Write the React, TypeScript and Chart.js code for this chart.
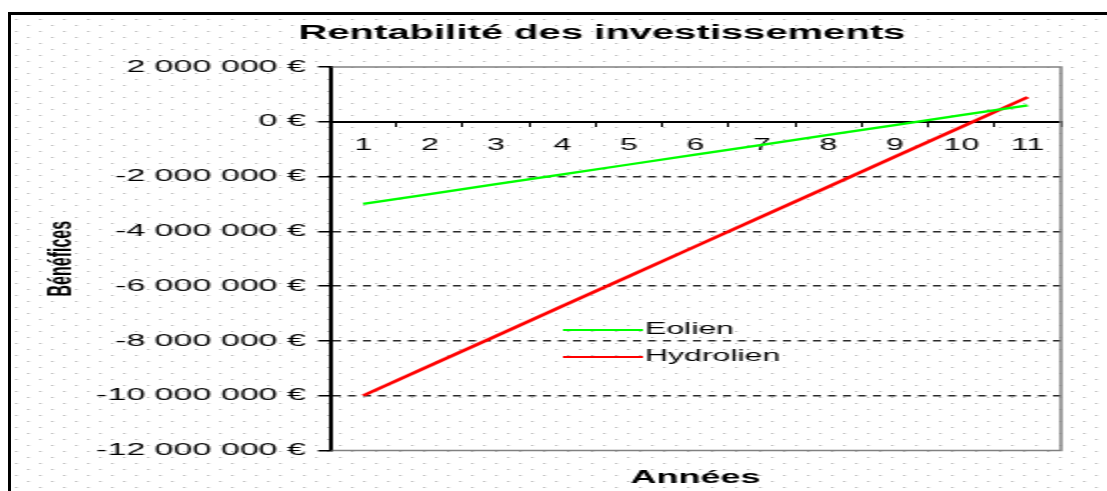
import React, { useEffect, useRef } from "react";
import { Chart, registerables } from "chart.js";

Chart.register(...registerables);
Chart.defaults.font.family = "'Liberation Sans', Arial, sans-serif";

// ---- data ----
const years = ["1", "2", "3", "4", "5", "6", "7", "8", "9", "10", "11"];
const eolien = [-3000000, -2640000, -2280000, -1920000, -1560000, -1200000, -840000, -480000, -120000, 240000, 600000];
const hydrolien = [-10000000, -8910000, -7820000, -6730000, -5640000, -4550000, -3460000, -2370000, -1280000, -190000, 900000];
const seriesNames = ["Eolien", "Hydrolien"];
const yMin = -12000000;
const yMax = 2000000;
const yStep = 2000000;
const chartTitle = "Rentabilité des investissements";
const xTitle = "Années";
const yTitle = "Bénéfices";

const fmtEuro = (v: number) => {
  const s = Math.abs(v).toString().replace(/\B(?=(\d{3})+(?!\d))/g, " ");
  return (v < 0 ? "-" : "") + s + " €";
};

const dotsPlugin = {
  id: "dotsBackground",
  beforeDraw(chart: any) {
    const { ctx, width, height } = chart;
    ctx.save();
    ctx.fillStyle = "#bcbcbc";
    let row = 0;
    for (let y = 4; y < height; y += 6, row++) {
      const off = row % 2 ? 6 : 0;
      for (let x = off + 2; x < width; x += 12) ctx.fillRect(x, y, 1.3, 1);
    }
    ctx.restore();
  },
};

const framePlugin = {
  id: "plotFrame",
  beforeDatasetsDraw(chart: any) {
    const { ctx, chartArea } = chart;
    const { left, right, top, bottom } = chartArea;
    ctx.save();
    ctx.strokeStyle = "#808080";
    ctx.lineWidth = 1.5;
    ctx.beginPath();
    ctx.moveTo(left + 1, top);
    ctx.lineTo(right, top);
    ctx.lineTo(right, bottom);
    ctx.lineTo(left + 1, bottom);
    ctx.stroke();
    ctx.restore();
  },
};

const insideLegendPlugin = {
  id: "insideLegend",
  afterDatasetsDraw(chart: any) {
    const { ctx, chartArea } = chart;
    const x0 = chartArea.left + 116.5;
    const y0 = chartArea.top + 263;
    ctx.save();
    ctx.font = "16px 'Liberation Sans', Arial, sans-serif";
    ctx.textBaseline = "middle";
    ctx.textAlign = "left";
    chart.data.datasets.forEach((ds: any, i: number) => {
      const y = y0 + i * 27;
      ctx.strokeStyle = ds.borderColor;
      ctx.lineWidth = 2.2;
      ctx.beginPath();
      ctx.moveTo(x0, y);
      ctx.lineTo(x0 + 40, y);
      ctx.stroke();
      ctx.fillStyle = "#000";
      ctx.fillText(ds.label, x0 + 41, y);
    });
    ctx.restore();
  },
};

function RentabiliteChart() {
  const canvasRef = useRef<HTMLCanvasElement | null>(null);

  useEffect(() => {
    if (!canvasRef.current) return;
    const hidden = "rgba(0,0,0,0)";
    const chart = new Chart(canvasRef.current, {
      type: "line",
      data: {
        labels: years,
        datasets: [
          {
            label: seriesNames[0],
            data: eolien,
            borderColor: "#00ff00",
            backgroundColor: "#00ff00",
            borderWidth: 2.3,
            pointRadius: 0,
            tension: 0,
            fill: false,
          },
          {
            label: seriesNames[1],
            data: hydrolien,
            borderColor: "#ff0000",
            backgroundColor: "#ff0000",
            borderWidth: 2.6,
            pointRadius: 0,
            tension: 0,
            fill: false,
          },
        ],
      },
      plugins: [dotsPlugin, framePlugin, insideLegendPlugin],
      options: {
        responsive: false,
        animation: false,
        devicePixelRatio: 1,
        events: [],
        layout: { padding: { left: 30, right: -13, top: 0, bottom: 0 } },
        plugins: {
          legend: { display: false },
          tooltip: { enabled: false },
          title: {
            display: true,
            text: chartTitle,
            color: "#000",
            font: { size: 20, weight: "bold" },
            padding: { top: 6, bottom: 22 },
          },
          subtitle: {
            display: true,
            text: xTitle,
            position: "bottom",
            fullSize: false,
            color: "#000",
            font: { size: 18, weight: "bold" },
            padding: { top: 17, bottom: 2 },
          },
        },
        scales: {
          x: {
            type: "category",
            offset: true,
            position: { y: 0 },
            grid: {
              offset: true,
              drawOnChartArea: false,
              drawTicks: true,
              tickLength: 4,
              color: "#000",
              lineWidth: 1,
            },
            border: { display: true, color: "#000", width: 2 },
            ticks: {
              color: "#000",
              font: { size: 16 },
              padding: 10,
              maxRotation: 0,
              autoSkip: false,
            },
          },
          y: {
            type: "linear",
            position: "left",
            min: yMin,
            max: yMax,
            ticks: {
              stepSize: yStep,
              color: "#000",
              font: { size: 17 },
              padding: 6,
              callback: (v: any) => fmtEuro(Number(v)),
            },
            grid: {
              color: (c: any) => {
                const v = c.tick ? c.tick.value : null;
                return v === 0 || v === yMax || v === yMin ? hidden : "#2a2a2a";
              },
              lineWidth: 1.5,
              drawTicks: true,
              tickLength: 6,
              tickColor: "#000",
              tickWidth: 1.5,
            },
            border: { display: true, color: "#000", width: 2, dash: [4, 3.5] },
            title: {
              display: true,
              text: yTitle,
              color: "#000",
              font: { size: 16, weight: "bold" },
              padding: { top: -14.1, bottom: 0 },
            },
            afterFit: (scale: any) => {
              scale.width = 129.5;
            },
          },
          ySpacer: {
            type: "linear",
            position: "right",
            display: true,
            min: yMin,
            max: yMax,
            ticks: { display: false },
            grid: { display: false, drawTicks: false },
            border: { display: false },
            afterFit: (scale: any) => {
              scale.width = 36;
            },
          },
        },
      },
    } as any);
    return () => chart.destroy();
  }, []);

  return (
    <div
      style={{
        position: "fixed",
        left: 8,
        top: 12,
        width: 1099,
        height: 479,
        borderTop: "3px solid #000",
        borderLeft: "3px solid #000",
        boxSizing: "border-box",
        overflow: "hidden",
        background: "#fff",
      }}
    >
      <canvas
        ref={canvasRef}
        width={548}
        height={476}
        style={{
          display: "block",
          width: "548px",
          height: "476px",
          transform: "scaleX(2)",
          transformOrigin: "0 0",
        }}
      />
    </div>
  );
}

export default function App() {
  return <RentabiliteChart />;
}
